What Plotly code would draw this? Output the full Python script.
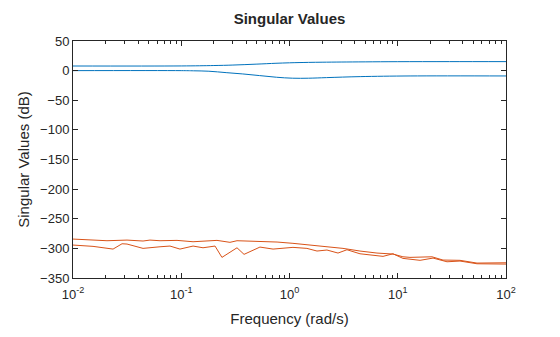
import plotly.graph_objects as go

# Blue singular values (dB)
blue1_freq = [0.01, 0.1, 0.2, 0.3, 0.5, 0.75, 1.0, 1.5, 2.0, 3.0, 5.0, 10.0, 30.0, 100.0]
blue1_db = [7.8, 7.9, 8.6, 9.4, 11.0, 12.4, 13.2, 13.9, 14.2, 14.5, 14.8, 15.1, 15.2, 15.2]

blue2_freq = [0.01, 0.1, 0.13, 0.18, 0.26, 0.37, 0.53, 0.76, 1.07, 1.5, 2.2, 4.5, 13.0, 100.0]
blue2_db = [0.0, 0.0, -0.3, -1.0, -3.4, -5.6, -8.4, -11.2, -12.8, -12.8, -11.8, -10.1, -9.0, -9.0]

# Orange singular values (dB), log10 frequency
orange1_lf = [-2.0, -1.815, -1.686, -1.501, -1.353, -1.289, -1.196, -1.039, -0.891, -0.670,
              -0.550, -0.485, -0.273, -0.115, 0.032, 0.189, 0.346, 0.494, 0.651, 0.808,
              0.956, 1.048, 1.113, 1.316, 1.418, 1.575, 1.732, 1.880, 2.0]
orange1_db = [-284.3, -286.0, -287.1, -286.0, -287.6, -286.0, -287.1, -286.5, -288.8, -286.5,
              -289.8, -287.1, -288.1, -289.3, -291.5, -294.4, -297.3, -300.0, -304.5, -307.9,
              -309.6, -314.2, -315.2, -314.2, -319.7, -320.2, -324.8, -324.3, -324.3]

orange2_lf = [-2.0, -1.815, -1.630, -1.547, -1.501, -1.353, -1.196, -1.104, -1.012, -0.891,
              -0.799, -0.688, -0.624, -0.485, -0.420, -0.273, -0.152, 0.032, 0.161, 0.254,
              0.346, 0.448, 0.531, 0.651, 0.864, 0.956, 1.048, 1.206, 1.326, 1.455,
              1.575, 1.732, 2.0]
orange2_db = [-294.4, -296.6, -301.2, -292.2, -292.7, -300.0, -297.3, -296.1, -301.2, -296.1,
              -299.0, -296.1, -315.2, -299.0, -310.1, -297.8, -301.2, -298.3, -300.0, -304.5,
              -302.8, -307.9, -302.3, -309.1, -313.5, -309.1, -316.9, -320.2, -316.4, -322.6,
              -321.4, -326.0, -326.5]

x_tickvals = [0.01, 0.1, 1, 10, 100]
x_ticktext = ["10<sup>-2</sup>", "10<sup>-1</sup>", "10<sup>0</sup>", "10<sup>1</sup>", "10<sup>2</sup>"]
y_tickvals = [50, 0, -50, -100, -150, -200, -250, -300, -350]

BLUE = "#0072BD"
ORANGE = "#D95319"
AX = "#262626"

minor_vals = [m * 10.0 ** e for e in range(-2, 2) for m in range(2, 10)]

fig = go.Figure()
fig.add_trace(go.Scatter(x=blue1_freq, y=blue1_db, mode="lines",
                         line=dict(color=BLUE, width=1, shape="spline"), showlegend=False))
fig.add_trace(go.Scatter(x=blue2_freq, y=blue2_db, mode="lines",
                         line=dict(color=BLUE, width=1, shape="spline"), showlegend=False))
fig.add_trace(go.Scatter(x=[10 ** v for v in orange1_lf], y=orange1_db, mode="lines",
                         line=dict(color=ORANGE, width=1), showlegend=False))
fig.add_trace(go.Scatter(x=[10 ** v for v in orange2_lf], y=orange2_db, mode="lines",
                         line=dict(color=ORANGE, width=1), showlegend=False))

fig.update_layout(
    width=560, height=337,
    margin=dict(l=73, r=54, t=41, b=59),
    paper_bgcolor="white", plot_bgcolor="white",
    font=dict(family="Liberation Sans, Arial, sans-serif", color=AX, size=13),
    title=dict(text="<b>Singular Values</b>", x=(73 + 506) / 2 / 560, xanchor="center",
               y=1 - 19 / 337, yanchor="middle", font=dict(size=15, color=AX)),
)
fig.update_xaxes(
    type="log", range=[-2, 2], tickvals=x_tickvals, ticktext=x_ticktext,
    ticks="inside", ticklen=5, tickcolor=AX, showline=True, linecolor=AX, linewidth=1,
    mirror="ticks", showgrid=False, zeroline=False, ticklabelstandoff=4,
    minor=dict(tickvals=minor_vals, ticks="inside", ticklen=3, tickcolor=AX, showgrid=False),
    title=dict(text="Frequency (rad/s)", font=dict(size=15), standoff=12),
    tickfont=dict(size=13),
)
fig.update_yaxes(
    range=[-350, 50], tickvals=y_tickvals, ticks="inside", ticklen=5, tickcolor=AX,
    showline=True, linecolor=AX, linewidth=1, mirror="ticks", showgrid=False, zeroline=False,
    title=dict(text="Singular Values (dB)", font=dict(size=15), standoff=6),
    tickfont=dict(size=13),
)

fig.write_html("out.html")
